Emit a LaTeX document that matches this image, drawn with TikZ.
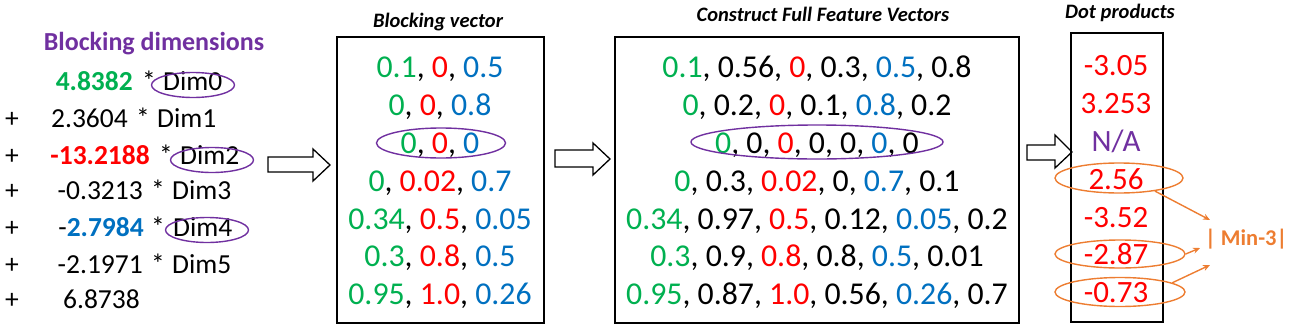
\documentclass[tikz,border=0pt]{standalone}
\usepackage{fontspec}
\setmainfont{Carlito}
\usetikzlibrary{shapes.geometric,arrows.meta}
\definecolor{cgreen}{HTML}{00B050}
\definecolor{cred}{HTML}{FF0000}
\definecolor{cblue}{HTML}{0070C0}
\definecolor{cpurple}{HTML}{7030A0}
\definecolor{corange}{HTML}{ED7D31}
\newcommand{\colG}[1]{\textcolor{cgreen}{#1}}
\newcommand{\colR}[1]{\textcolor{cred}{#1}}
\newcommand{\colB}[1]{\textcolor{cblue}{#1}}
\begin{document}
\begin{tikzpicture}[x=1pt,y=-1pt,
  val/.style={inner sep=0pt, anchor=base, font=\fontsize{31.8}{37}\selectfont},
  dval/.style={inner sep=0pt, anchor=base, font=\fontsize{31}{37}\selectfont},
  lhs/.style={inner sep=0pt, anchor=base west, font=\fontsize{27.5}{33}\selectfont},
  rhs/.style={inner sep=0pt, anchor=base east, font=\fontsize{27.5}{33}\selectfont},
  plus/.style={inner sep=0pt, anchor=base, font=\fontsize{27.5}{33}\selectfont},
  ttl/.style={inner sep=0pt, anchor=base, font=\fontsize{20.5}{25}\selectfont\bfseries\itshape},
  box/.style={draw, line width=1.6pt},
  pring/.style={ellipse, draw=cpurple, line width=1.4pt, inner sep=0pt},
  oring/.style={ellipse, draw=corange, line width=1.4pt, inner sep=0pt},
  hollow/.style={draw, line width=1.3pt, fill=white, line join=miter},
  oarrow/.style={draw=corange, line width=1.4pt, -{Stealth[length=7pt,width=6pt]}}]
\useasboundingbox (0,0) rectangle (1291,327);

% ---------- left: blocking dimensions ----------
\node[inner sep=0pt, anchor=base, text=cpurple, font=\fontsize{26}{31}\selectfont\bfseries] (bdtitle) at (154,50) {Blocking dimensions};
% numbers
\node[rhs] (num1) at (133,90)  {\textbf{\colG{4.8382}}};
\node[rhs] (num2) at (128,127) {2.3604};
\node[rhs] (num3) at (150,164) {\textbf{\colR{-13.2188}}};
\node[rhs] (num4) at (143,199) {-0.3213};
\node[rhs] (num5) at (144,236) {-\textbf{\colB{2.7984}}};
\node[rhs] (num6) at (143,273) {-2.1971};
\node[rhs] (num7) at (140,308) {6.8738};
% asterisks
\node[lhs] (ast1) at (142,90)  {*};
\node[lhs] (ast2) at (136,127) {*};
\node[lhs] (ast3) at (159,164) {*};
\node[lhs] (ast4) at (151,199) {*};
\node[lhs] (ast5) at (151,236) {*};
\node[lhs] (ast6) at (151,273) {*};
% dimension names
\node[lhs] (dim0) at (163,90)  {Dim0};
\node[lhs] (dim1) at (157,127) {Dim1};
\node[lhs] (dim2) at (180,164) {Dim2};
\node[lhs] (dim3) at (172,199) {Dim3};
\node[lhs] (dim4) at (173,236) {Dim4};
\node[lhs] (dim5) at (172,273) {Dim5};
\foreach \yy [count=\i] in {127,164,199,236,273,308}
  \node[plus] (p\i) at (12,\yy) {+};
\node[pring, minimum width=83pt, minimum height=25pt] (e0) at (193,85) {};
\node[pring, minimum width=83pt, minimum height=25pt] (e2) at (212,160) {};
\node[pring, minimum width=83pt, minimum height=25pt] (e4) at (207,230) {};

% ---------- arrow 1 ----------
\draw[hollow] (268,157) -- (313,157) -- (313,149) -- (330,165) -- (313,181) -- (313,172) -- (268,172) -- cycle;

% ---------- blocking vector box ----------
\node[ttl] (bvtitle) at (438,27) {Blocking vector};
\node[box, minimum width=207pt, minimum height=286pt, inner sep=0pt] (bv) at (440.5,180) {};
\node[val] (b1) at (440,77)  {\colG{0.1}, \colR{0}, \colB{0.5}};
\node[val] (b2) at (440,115) {\colG{0}, \colR{0}, \colB{0.8}};
\node[val] (b3) at (440,153) {\colG{0}, \colR{0}, \colB{0}};
\node[val] (b4) at (440,191) {\colG{0}, \colR{0.02}, \colB{0.7}};
\node[val] (b5) at (440,229) {\colG{0.34}, \colR{0.5}, \colB{0.05}};
\node[val] (b6) at (440,266) {\colG{0.3}, \colR{0.8}, \colB{0.5}};
\node[val] (b7) at (440,304) {\colG{0.95}, \colR{1.0}, \colB{0.26}};
\node[pring, minimum width=129pt, minimum height=30pt] (eb) at (441,143) {};

% ---------- arrow 2 ----------
\draw[hollow] (555,150) -- (593,150) -- (593,143) -- (610,159) -- (593,175) -- (593,167) -- (555,167) -- cycle;

% ---------- full feature box ----------
\node[ttl] (fftitle) at (823,21) {Construct Full Feature Vectors};
\node[box, minimum width=404pt, minimum height=286pt, inner sep=0pt] (ff) at (817,180) {};
\node[val] (f1) at (817,77)  {\colG{0.1}, 0.56, \colR{0}, 0.3, \colB{0.5}, 0.8};
\node[val] (f2) at (817,115) {\colG{0}, 0.2, \colR{0}, 0.1, \colB{0.8}, 0.2};
\node[val] (f3) at (817,153) {\colG{0}, 0, \colR{0}, 0, 0, \colB{0}, 0};
\node[val] (f4) at (817,191) {\colG{0}, 0.3, \colR{0.02}, 0, \colB{0.7}, 0.1};
\node[val] (f5) at (817,229) {\colG{0.34}, 0.97, \colR{0.5}, 0.12, \colB{0.05}, 0.2};
\node[val] (f6) at (817,266) {\colG{0.3}, 0.9, \colR{0.8}, 0.8, \colB{0.5}, 0.01};
\node[val] (f7) at (817,304) {\colG{0.95}, 0.87, \colR{1.0}, 0.56, \colB{0.26}, 0.7};
\node[pring, minimum width=252pt, minimum height=34pt] (ef) at (817,142) {};

% ---------- arrow 3 ----------
\draw[hollow] (1027,145) -- (1055,145) -- (1055,135) -- (1072,152) -- (1055,168) -- (1055,160) -- (1027,160) -- cycle;

% ---------- dot products ----------
\node[ttl] (dptitle) at (1120,18) {Dot products};
\node[box, minimum width=92pt, minimum height=289pt, inner sep=0pt] (dp) at (1117,177.5) {};
\node[dval, text=cred] (d1) at (1116,75)  {-3.05};
\node[dval, text=cred] (d2) at (1116,113) {3.253};
\node[dval, text=cpurple] (d3) at (1116,151) {N/A};
\node[dval, text=cred] (d4) at (1116,189) {2.56};
\node[dval, text=cred] (d5) at (1116,227) {-3.52};
\node[dval, text=cred] (d6) at (1116,264) {-2.87};
\node[dval, text=cred] (d7) at (1116,302) {-0.73};
\node[oring, minimum width=128pt, minimum height=30pt] (o1) at (1119,178) {};
\node[oring, minimum width=130pt, minimum height=28pt] (o2) at (1120,254) {};
\node[oring, minimum width=130pt, minimum height=29pt] (o3) at (1120,292) {};

% ---------- min-3 ----------
\node[inner sep=0pt, anchor=base west, text=corange, font=\fontsize{22.5}{27}\selectfont\bfseries] (min3) at (1205,245) {| Min-3|};
\coordinate (t1) at (1210,220);
\coordinate (t2) at (1200,248);
\coordinate (t3) at (1210,265);
\draw[oarrow] (o1.-20) -- (t1);
\draw[oarrow] (o2.east) -- (t2);
\draw[oarrow] (o3.10) -- (t3);
\end{tikzpicture}
\end{document}
